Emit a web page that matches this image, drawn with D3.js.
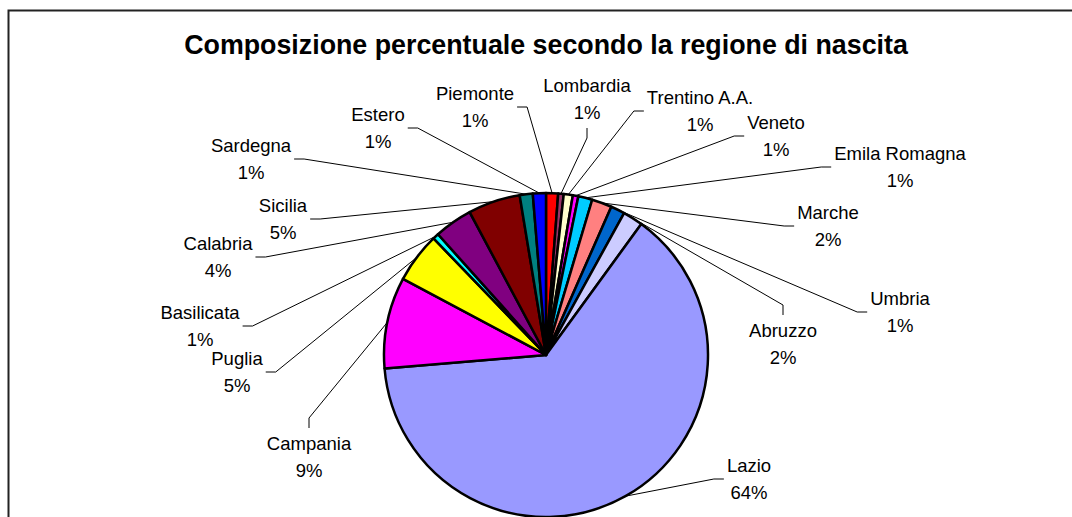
<!DOCTYPE html>
<html>
<head>
<meta charset="utf-8">
<script src="https://cdn.jsdelivr.net/npm/d3@7"></script>
<style>
  body { margin: 0; background: #fff; }
  text { font-family: Arial, "Liberation Sans", sans-serif; fill: #000; }
</style>
</head>
<body>
<script>
(function () {
  'use strict'

  // Data (percent shares)
  var regions = ['Piemonte', 'Lombardia', 'Trentino A.A.', 'Veneto', 'Emila Romagna',
    'Marche', 'Umbria', 'Abruzzo', 'Lazio', 'Campania', 'Puglia', 'Basilicata',
    'Calabria', 'Sicilia', 'Sardegna', 'Estero']
  var shares = [1.2, 0.55, 0.9, 0.55, 1.4, 2.0, 1.4, 2.0, 63.6, 9.1, 5.0, 0.6,
    3.8, 5.2, 1.3, 1.3]
  var colors = ['#ff0000', '#993366', '#ffffcc', '#ff00ff', '#00ccff', '#ff8080',
    '#0066cc', '#ccccff', '#9999ff', '#ff00ff', '#ffff00', '#00ffff', '#800080',
    '#800000', '#008080', '#0000ff']

  // Label layout: block centre relative to pie centre, and the side the leader leaves from
  var labelLayout = [
    [-71, -248, 'right'], [41, -256, 'bottom'], [154, -244, 'left'], [230, -219, 'left'],
    [354, -188, 'left'], [282, -129, 'left'], [354, -43, 'left'], [237, -11, 'top'],
    [203, 124, 'left'], [-237, 102, 'top'], [-309, 17, 'right'], [-346, -29, 'right'],
    [-328, -98, 'right'], [-263, -136, 'right'], [-295, -196, 'right'], [-168, -227, 'right']
  ]

  var dim = { w: 1072, h: 517 }
  var center = { x: 546, y: 355 }
  var radius = 162
  var fs = 18.5
  var lineH = 27

  var svg = d3.select('body').append('svg')
    .attr('width', dim.w)
    .attr('height', dim.h)

  // Chart frame (runs off the right and bottom of the picture)
  svg.append('rect')
    .attr('x', 8.5).attr('y', 10.5)
    .attr('width', 1200).attr('height', 700)
    .attr('fill', '#fff')
    .attr('stroke', '#222')
    .attr('stroke-width', 2)

  svg.append('text')
    .attr('x', center.x)
    .attr('y', 54)
    .attr('text-anchor', 'middle')
    .attr('font-size', 26.8)
    .attr('font-weight', 'bold')
    .text('Composizione percentuale secondo la regione di nascita')

  var data = regions.map(function (r, i) {
    return { region: r, value: shares[i], color: colors[i], layout: labelLayout[i] }
  })
  var total = d3.sum(shares)

  var pie = d3.pie().sort(null).value(function (d) { return d.value })
  var arcs = pie(data)
  var arc = d3.arc().innerRadius(0).outerRadius(radius)

  var g = svg.append('g')
    .attr('transform', 'translate(' + center.x + ',' + center.y + ')')

  g.selectAll('path.slice')
    .data(arcs)
    .enter().append('path')
      .attr('class', 'slice')
      .attr('d', arc)
      .attr('fill', function (d) { return d.data.color })
      .attr('stroke', '#000')
      .attr('stroke-width', 2.5)
      .attr('stroke-linejoin', 'round')

  var labels = g.selectAll('g.label')
    .data(arcs)
    .enter().append('g')
      .attr('class', 'label')

  labels.each(function (d) {
    var sel = d3.select(this)
    var cx = d.data.layout[0]
    var cy = d.data.layout[1]
    var pct = Math.round(d.data.value / total * 100) + '%'
    var lines = [d.data.region, pct]

    var texts = sel.selectAll('text')
      .data(lines)
      .enter().append('text')
        .attr('x', cx)
        .attr('y', function (t, i) { return cy + (i - 0.5) * lineH + fs * 0.35 })
        .attr('text-anchor', 'middle')
        .attr('font-size', fs)
        .text(function (t) { return t })

    var w = 0
    texts.each(function () { w = Math.max(w, this.getComputedTextLength()) })

    var mid = (d.startAngle + d.endAngle) / 2
    var tx = radius * Math.sin(mid)
    var ty = -radius * Math.cos(mid)

    var side = d.data.layout[2]
    var p0, p1
    var stub = 10
    if (side === 'right') {
      p0 = [cx + w / 2 + 3, cy]; p1 = [p0[0] + stub, cy]
    } else if (side === 'left') {
      p0 = [cx - w / 2 - 3, cy]; p1 = [p0[0] - stub, cy]
    } else if (side === 'top') {
      p0 = [cx, cy - lineH - 2]; p1 = [cx, p0[1] - stub]
    } else {
      p0 = [cx, cy + lineH + 2]; p1 = [cx, p0[1] + stub]
    }

    sel.append('polyline')
      .attr('points', [p0, p1, [tx, ty]].map(function (p) { return p.join(',') }).join(' '))
      .attr('fill', 'none')
      .attr('stroke', '#000')
      .attr('stroke-width', 1)
  })
}())
</script>
</body>
</html>
